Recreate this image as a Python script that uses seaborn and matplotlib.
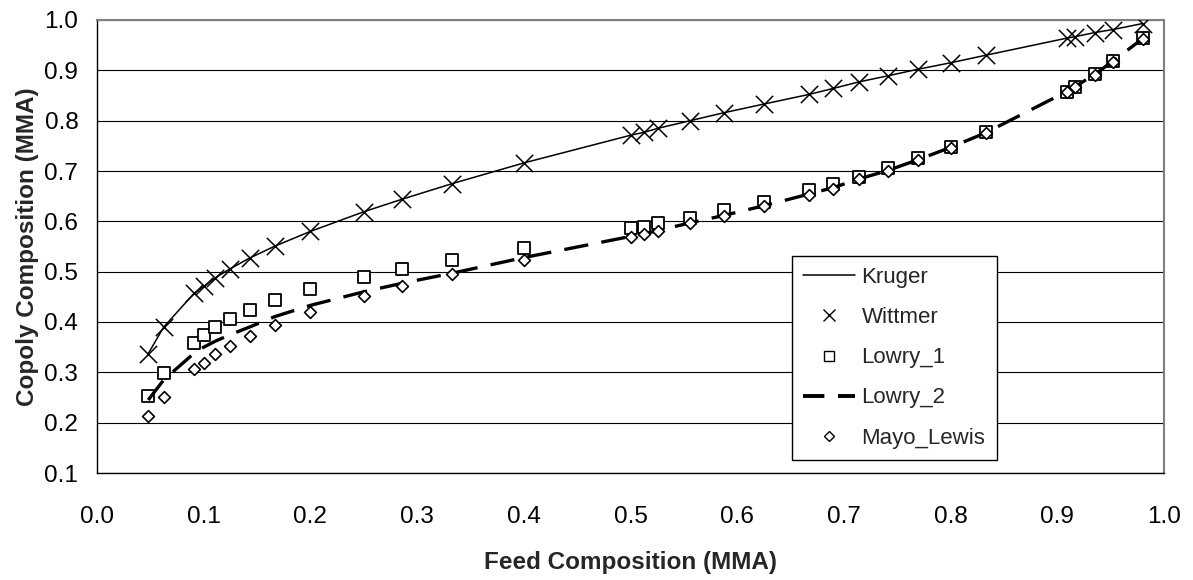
import matplotlib
matplotlib.use("Agg")
import matplotlib.pyplot as plt
from matplotlib.lines import Line2D
import seaborn as sns
import pandas as pd

# ---- data ----
feed = [0.048, 0.0625, 0.091, 0.100, 0.111, 0.125, 0.143, 0.167, 0.200, 0.250,
        0.286, 0.333, 0.400, 0.500, 0.513, 0.526, 0.556, 0.588, 0.625, 0.667,
        0.690, 0.714, 0.741, 0.769, 0.800, 0.833, 0.909, 0.917, 0.935, 0.952, 0.980]

kruger = [0.337, 0.390, 0.457, 0.471, 0.488, 0.506, 0.527, 0.551, 0.580, 0.619,
          0.644, 0.675, 0.716, 0.771, 0.777, 0.785, 0.800, 0.816, 0.833, 0.852,
          0.864, 0.877, 0.889, 0.902, 0.915, 0.930, 0.964, 0.967, 0.975, 0.981, 0.993]

wittmer = [0.337, 0.390, 0.457, 0.471, 0.488, 0.506, 0.527, 0.551, 0.580, 0.619,
           0.644, 0.675, 0.716, 0.771, 0.777, 0.785, 0.800, 0.816, 0.833, 0.852,
           0.864, 0.877, 0.889, 0.902, 0.915, 0.930, 0.964, 0.967, 0.975, 0.981, 0.993]

lowry_1 = [0.253, 0.299, 0.359, 0.374, 0.390, 0.406, 0.423, 0.443, 0.465, 0.490,
           0.506, 0.523, 0.548, 0.586, 0.589, 0.596, 0.606, 0.622, 0.639, 0.662,
           0.675, 0.688, 0.705, 0.725, 0.748, 0.777, 0.857, 0.867, 0.892, 0.918, 0.964]

lowry_2 = [0.245, 0.285, 0.338, 0.350, 0.362, 0.375, 0.390, 0.411, 0.433, 0.460,
           0.477, 0.497, 0.528, 0.570, 0.575, 0.582, 0.597, 0.612, 0.631, 0.654,
           0.667, 0.684, 0.701, 0.722, 0.747, 0.776, 0.858, 0.868, 0.892, 0.918, 0.963]

mayo_lewis = [0.213, 0.251, 0.306, 0.319, 0.336, 0.352, 0.372, 0.395, 0.420, 0.452,
              0.471, 0.496, 0.524, 0.569, 0.574, 0.581, 0.596, 0.610, 0.630, 0.653,
              0.665, 0.684, 0.700, 0.721, 0.746, 0.775, 0.857, 0.867, 0.891, 0.917, 0.962]

series_names = ["Kruger", "Wittmer", "Lowry_1", "Lowry_2", "Mayo_Lewis"]
x_ticks = [0.0, 0.1, 0.2, 0.3, 0.4, 0.5, 0.6, 0.7, 0.8, 0.9, 1.0]
y_ticks = [0.1, 0.2, 0.3, 0.4, 0.5, 0.6, 0.7, 0.8, 0.9, 1.0]
x_label = "Feed Composition (MMA)"
y_label = "Copoly Composition (MMA)"

df = pd.DataFrame({"feed": feed, "Kruger": kruger, "Wittmer": wittmer,
                   "Lowry_1": lowry_1, "Lowry_2": lowry_2, "Mayo_Lewis": mayo_lewis})

sns.set_theme(style="white")
plt.rcParams["font.family"] = ["Liberation Sans", "DejaVu Sans"]

W, H = 1193, 580
fig = plt.figure(figsize=(W / 100, H / 100), dpi=100)
ax = fig.add_axes([97 / W, 1 - 473 / H, (1164 - 97) / W, (473 - 20) / H])

# grid
for yv in y_ticks:
    ax.axhline(yv, color="black", lw=0.8, zorder=0.5)

DASH = (0, (7.3, 4.0))

sns.lineplot(data=df, x="feed", y="Kruger", ax=ax, color="black", lw=1.1,
             errorbar=None, zorder=2)
sns.scatterplot(data=df, x="feed", y="Wittmer", ax=ax, marker="x", color="black",
                s=155, linewidth=1.1, zorder=3)
sns.scatterplot(data=df, x="feed", y="Lowry_1", ax=ax, marker="s", facecolor="white",
                edgecolor="black", s=64, linewidth=1.3, zorder=4)
sns.lineplot(data=df, x="feed", y="Lowry_2", ax=ax, color="black", lw=2.4,
             ls=DASH, errorbar=None, zorder=5)
sns.scatterplot(data=df, x="feed", y="Mayo_Lewis", ax=ax, marker="D", facecolor="white",
                edgecolor="black", s=36, linewidth=1.2, zorder=6)

ax.set_xlim(0.0, 1.0)
ax.set_ylim(0.1, 1.0)
ax.set_xticks(x_ticks)
ax.set_yticks(y_ticks)
ax.set_xticklabels([f"{v:.1f}" for v in x_ticks])
ax.set_yticklabels([f"{v:.1f}" for v in y_ticks])
ax.tick_params(axis="both", which="major", direction="out", length=6.5, width=0.8,
               color="black", labelsize=17.5, labelcolor="black")
ax.tick_params(axis="x", pad=17)
ax.tick_params(axis="y", pad=7)
ax.grid(False)

for side in ["left", "bottom"]:
    ax.spines[side].set_color("black")
    ax.spines[side].set_linewidth(1.0)
for side in ["top", "right"]:
    ax.spines[side].set_color("#808080")
    ax.spines[side].set_linewidth(1.5)

ax.set_xlabel(x_label, fontsize=17.5, fontweight="bold", labelpad=17)
ax.set_ylabel(y_label, fontsize=17.5, fontweight="bold", labelpad=4)

handles = [
    Line2D([], [], color="black", lw=1.1),
    Line2D([], [], color="black", lw=0, marker="x", ms=9, mew=1.0),
    Line2D([], [], color="black", lw=0, marker="s", ms=7, mfc="white", mew=1.0),
    Line2D([], [], color="black", lw=2.8, ls=(0, (5.5, 3.5))),
    Line2D([], [], color="black", lw=0, marker="D", ms=5.5, mfc="white", mew=1.0),
]
leg = ax.legend(handles, series_names, loc="upper left",
                bbox_to_anchor=(792 / W, 1 - 256 / H), bbox_transform=fig.transFigure,
                borderaxespad=0, fontsize=16, frameon=True, fancybox=False,
                edgecolor="black", framealpha=1, labelspacing=0.86,
                handlelength=2.35, handletextpad=0.28, borderpad=0.5)
leg.get_frame().set_linewidth(1.0)

fig.savefig("out.png", dpi=100)
